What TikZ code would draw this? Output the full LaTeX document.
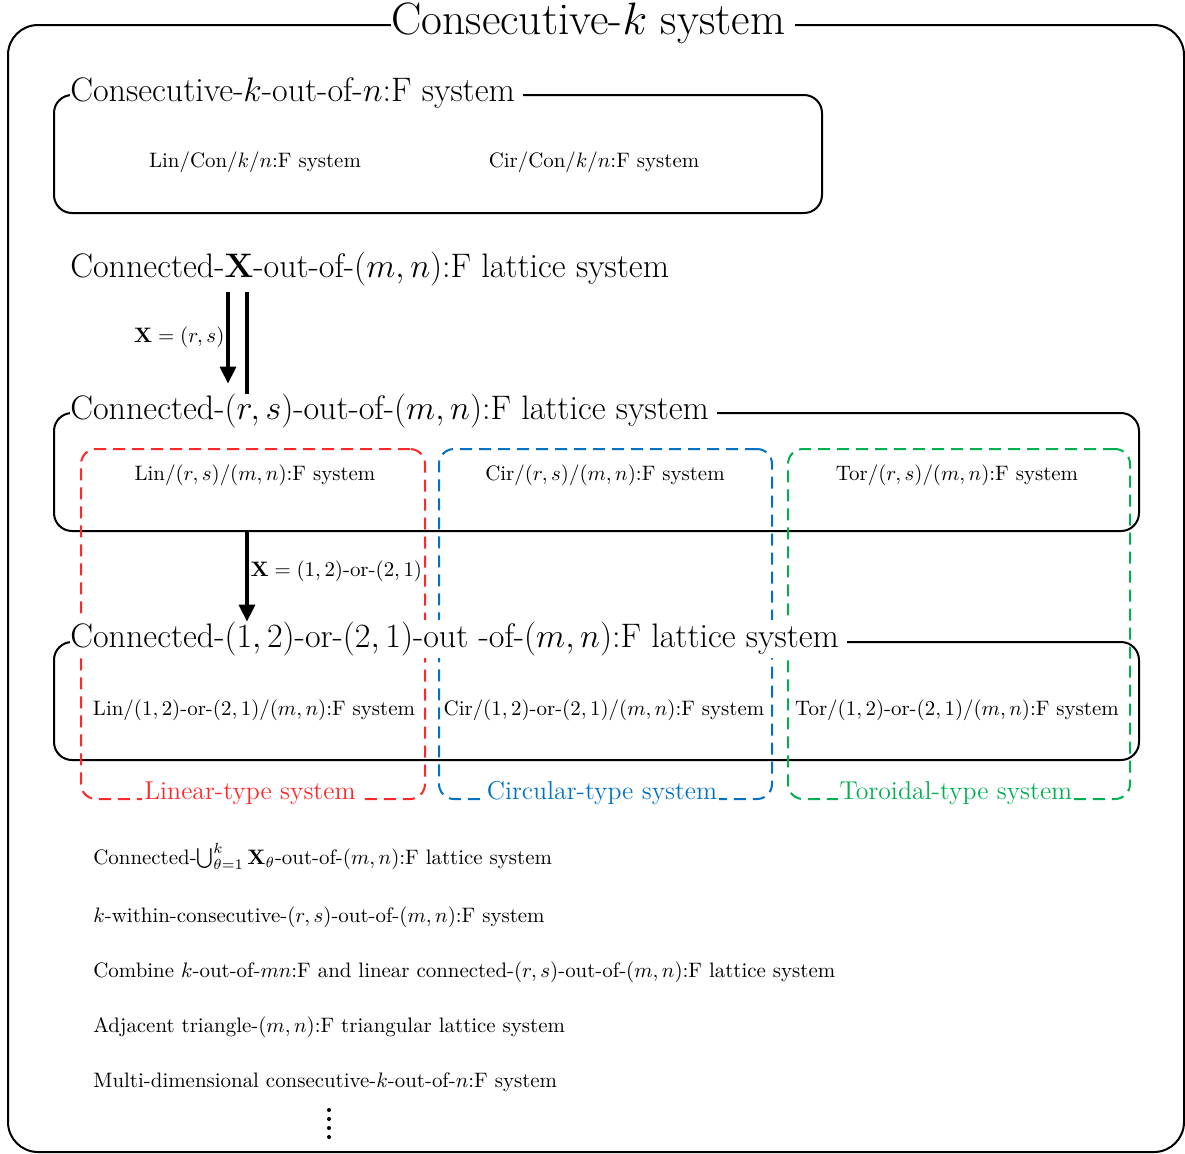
\RequirePackage{fix-cm}
\documentclass[tikz,border=0pt]{standalone}
\usetikzlibrary{arrows.meta}

\definecolor{linred}{RGB}{255,40,40}
\definecolor{cirblue}{RGB}{0,114,198}
\definecolor{torgreen}{RGB}{0,176,80}

\newcommand\smalltxt{\fontsize{10.45}{12.5}\selectfont}
\newcommand\bigtxt{\fontsize{17}{20}\selectfont}
\newcommand\midtxt{\fontsize{12.9}{15.5}\selectfont}
\newcommand\toptxt{\fontsize{22.7}{27}\selectfont}

\begin{document}
\begin{tikzpicture}[x=0.5pt,y=-0.5pt,
  font=\smalltxt,
  outerframe/.style={draw, line width=1pt, rounded corners=15pt, inner sep=0pt, anchor=north west},
  frame/.style={draw, line width=1pt, rounded corners=9pt, inner sep=0pt, anchor=north west,
                minimum height=59pt},
  grp/.style={draw, line width=1pt, dash pattern=on 6pt off 3.5pt, rounded corners=7.5pt,
              inner sep=0pt, anchor=north west, minimum height=175pt},
  boxtitle/.style={fill=white, anchor=west, inner xsep=0pt, inner ysep=1pt, font=\bigtxt,
                   execute at end node={\hspace{4pt}}},
  item/.style={inner sep=1pt},
  listitem/.style={anchor=west, inner sep=0pt},
  grplabel/.style={fill=white, inner sep=1pt, font=\midtxt},
  arr/.style={line width=1.6pt, -{Triangle[length=8.5pt,width=8pt]}},
  plainline/.style={line width=1.6pt}]

\useasboundingbox (0,0) rectangle (1185,1153);

% outer frame
\node[outerframe, minimum width=588pt, minimum height=563.5pt] (outer) at (7,24) {};

% solid system boxes
\node[frame, minimum width=384pt]   (b1) at (53,94)  {};
\node[frame, minimum width=542.5pt] (b3) at (53,412) {};
\node[frame, minimum width=542.5pt] (b4) at (53,641) {};

% dashed type groups
\node[grp, draw=linred,   minimum width=172pt]   (glin) at (80,448)  {};
\node[grp, draw=cirblue,  minimum width=166.5pt] (gcir) at (438,448) {};
\node[grp, draw=torgreen, minimum width=171pt]   (gtor) at (787,448) {};

% titles
\node[fill=white, inner xsep=0pt, inner ysep=0pt, font=\toptxt, anchor=west,
      execute at end node={\hspace{5pt}}] (ttl) at (391,23) {Consecutive-$k$ system};
\node[boxtitle] (b1t) at (70,93)  {Consecutive-$k$-out-of-$n$:F system};
\node[boxtitle] (cx)  at (70,269) {Connected-$\mathbf{X}$-out-of-$(m,n)$:F lattice system};
\node[boxtitle] (crs) at (70,411) {Connected-$(r,s)$-out-of-$(m,n)$:F lattice system};
\node[boxtitle] (c12) at (70,639) {Connected-$(1,2)$-or-$(2,1)$-out -of-$(m,n)$:F lattice system};

% box contents
\node[item] (lincon) at (255,162) {Lin/Con/$k$/$n$:F system};
\node[item] (circon) at (594,162) {Cir/Con/$k$/$n$:F system};

\node[item] (linrs) at (255,475) {Lin/$(r,s)/(m,n)$:F system};
\node[item] (cirrs) at (605,475) {Cir/$(r,s)/(m,n)$:F system};
\node[item] (torrs) at (957,475) {Tor/$(r,s)/(m,n)$:F system};

\node[item] (lin12) at (254,710) {Lin/$(1,2)$-or-$(2,1)/(m,n)$:F system};
\node[item] (cir12) at (604,710) {Cir/$(1,2)$-or-$(2,1)/(m,n)$:F system};
\node[item] (tor12) at (957,710) {Tor/$(1,2)$-or-$(2,1)/(m,n)$:F system};

% group labels
\node[grplabel, text=linred]   (linlab) at (250,793) {Linear-type system};
\node[grplabel, text=cirblue]  (cirlab) at (602,793) {Circular-type system};
\node[grplabel, text=torgreen] (torlab) at (956,793) {Toroidal-type system};

% connectors
\coordinate (ax1) at (228,0);
\coordinate (ax2) at (247,0);
\draw[arr, shorten <=2pt, shorten >=4pt] (cx.south -| ax1) -- (crs.north -| ax1)
  node[pos=0.47, left, inner sep=1pt] (lx1) {$\mathbf{X}=(r,s)$};
\draw[plainline, shorten <=2pt, shorten >=-1pt] (cx.south -| ax2) -- (crs.north -| ax2);
\draw[arr, shorten >=-1pt] (b3.south -| ax2) -- (c12.north -| ax2)
  node[pos=0.45, right, inner sep=1pt] (lx2) {$\mathbf{X}=(1,2)$-or-$(2,1)$};

% further systems
\node[listitem, anchor=base west] (o1) at (93,864) {Connected-$\bigcup_{\theta=1}^{k}\mathbf{X}_\theta$-out-of-$(m,n)$:F lattice system};
\node[listitem] (o2) at (93,917)  {$k$-within-consecutive-$(r,s)$-out-of-$(m,n)$:F system};
\node[listitem] (o3) at (93,972)  {Combine $k$-out-of-$mn$:F and linear connected-$(r,s)$-out-of-$(m,n)$:F lattice system};
\node[listitem] (o4) at (93,1027) {Adjacent triangle-$(m,n)$:F triangular lattice system};
\node[listitem] (o5) at (93,1082) {Multi-dimensional consecutive-$k$-out-of-$n$:F system};

% continuation dots
\foreach \yy in {1110,1119,1128,1137}
  \fill (329,\yy) circle (1pt);

\end{tikzpicture}
\end{document}
